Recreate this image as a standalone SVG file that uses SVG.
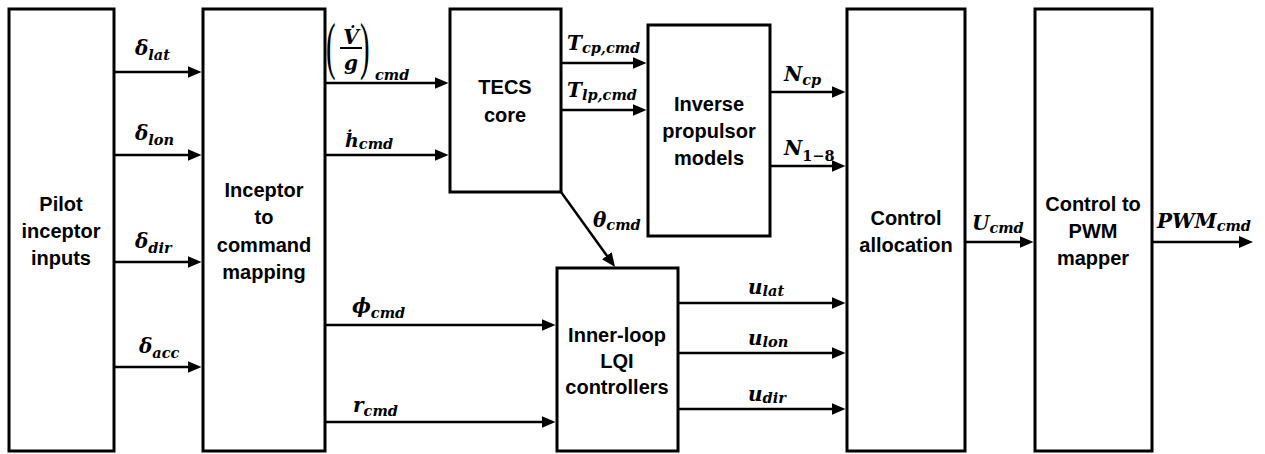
<svg xmlns="http://www.w3.org/2000/svg" width="1265" height="454" viewBox="0 0 1265 454">
<style>
.box{fill:#fff;stroke:#000;stroke-width:3}
.lbl{font-family:"Liberation Sans",Arial,sans-serif;font-weight:700;font-size:20px;text-anchor:middle;fill:#000}
.m{font-family:"DejaVu Serif","Liberation Serif",serif;font-weight:700;font-style:italic;font-size:20px;fill:#000}
.s{font-size:14.5px}
.up{font-style:normal}
.cn line,.cn path{stroke:#000;stroke-width:2.5;fill:none;marker-end:url(#ah)}
</style>
<defs>
<marker id="ah" markerWidth="14" markerHeight="12" refX="4" refY="6" orient="auto" markerUnits="userSpaceOnUse">
<path d="M0,0 L14,6 L0,12 z" fill="#000"/>
</marker>
</defs>
<rect width="1265" height="454" fill="#fff"/>

<g id="pilot">
<rect class="box" x="9" y="9" width="105" height="442"/>
<text class="lbl" x="61" y="211">Pilot</text>
<text class="lbl" x="61" y="238">inceptor</text>
<text class="lbl" x="61" y="265">inputs</text>
</g>
<g id="inceptor">
<rect class="box" x="203" y="9" width="122" height="442"/>
<text class="lbl" x="264" y="197">Inceptor</text>
<text class="lbl" x="264" y="224">to</text>
<text class="lbl" x="264" y="252">command</text>
<text class="lbl" x="264" y="279">mapping</text>
</g>
<g id="tecs">
<rect class="box" x="450" y="9" width="111" height="183"/>
<text class="lbl" x="505" y="94">TECS</text>
<text class="lbl" x="505" y="122">core</text>
</g>
<g id="inverse">
<rect class="box" x="648" y="25" width="122" height="211"/>
<text class="lbl" x="709" y="111">Inverse</text>
<text class="lbl" x="709" y="138">propulsor</text>
<text class="lbl" x="709" y="165">models</text>
</g>
<g id="innerloop">
<rect class="box" x="557" y="268" width="121" height="183"/>
<text class="lbl" x="617" y="342">Inner-loop</text>
<text class="lbl" x="617" y="368">LQI</text>
<text class="lbl" x="617" y="394">controllers</text>
</g>
<g id="allocation">
<rect class="box" x="847" y="9" width="118" height="442"/>
<text class="lbl" x="906" y="225">Control</text>
<text class="lbl" x="906" y="252">allocation</text>
</g>
<g id="pwm">
<rect class="box" x="1035" y="9" width="117" height="442"/>
<text class="lbl" x="1093" y="211">Control to</text>
<text class="lbl" x="1093" y="238">PWM</text>
<text class="lbl" x="1093" y="265">mapper</text>
</g>

<g id="connectors" class="cn">
<line x1="114" y1="72" x2="191.5" y2="72"/>
<line x1="114" y1="155" x2="191.5" y2="155"/>
<line x1="114" y1="262" x2="191.5" y2="262"/>
<line x1="114" y1="367" x2="191.5" y2="367"/>
<line x1="325" y1="83" x2="438.5" y2="83"/>
<line x1="325" y1="155" x2="438.5" y2="155"/>
<line x1="325" y1="325" x2="545.5" y2="325"/>
<line x1="325" y1="422" x2="545.5" y2="422"/>
<line x1="561" y1="63" x2="636.5" y2="63"/>
<line x1="561" y1="110" x2="636.5" y2="110"/>
<line x1="770" y1="92" x2="835.5" y2="92"/>
<line x1="770" y1="166" x2="835.5" y2="166"/>
<line x1="561" y1="192" x2="609.2" y2="258.9"/>
<line x1="678" y1="303" x2="835.5" y2="303"/>
<line x1="678" y1="353" x2="835.5" y2="353"/>
<line x1="678" y1="409" x2="835.5" y2="409"/>
<line x1="965" y1="242" x2="1023.5" y2="242"/>
<line x1="1152" y1="242" x2="1243" y2="242"/>
</g>

<g id="labels">
<text class="m" x="135" y="55">δ<tspan class="s" dy="5">lat</tspan></text>
<text class="m" x="135" y="140">δ<tspan class="s" dy="5">lon</tspan></text>
<text class="m" x="135" y="248">δ<tspan class="s" dy="5">dir</tspan></text>
<text class="m" x="139" y="353">δ<tspan class="s" dy="5">acc</tspan></text>
<text transform="translate(326,67) scale(0.45,1)" style="font-family:'Liberation Serif',serif;font-size:64px;fill:#000">(</text>
<text class="m" x="351" y="44" text-anchor="middle">V̇</text>
<line x1="340" y1="48" x2="362" y2="48" stroke="#000" stroke-width="2"/>
<text class="m" x="351" y="70" text-anchor="middle">g</text>
<text transform="translate(360,67) scale(0.45,1)" style="font-family:'Liberation Serif',serif;font-size:64px;fill:#000">)</text>
<text class="m s" x="375" y="80">cmd</text>
<text class="m" x="345" y="147" style="font-size:19px">ḣ<tspan class="s" dy="2">cmd</tspan></text>
<text class="m" x="352" y="313">ϕ<tspan class="s" dy="5">cmd</tspan></text>
<text class="m" x="353" y="412">r<tspan class="s" dy="4">cmd</tspan></text>
<text class="m" x="567" y="50">T<tspan class="s" dy="3">cp,cmd</tspan></text>
<text class="m" x="567" y="97">T<tspan class="s" dy="3">lp,cmd</tspan></text>
<text class="m" x="593" y="227">θ<tspan class="s" dy="3">cmd</tspan></text>
<text class="m" x="784" y="81">N<tspan class="s" dy="4">cp</tspan></text>
<text class="m" x="784" y="155">N<tspan class="s up" dy="6">1−8</tspan></text>
<text class="m" x="748" y="294">u<tspan class="s" dy="2">lat</tspan></text>
<text class="m" x="748" y="345">u<tspan class="s" dy="2">lon</tspan></text>
<text class="m" x="748" y="401">u<tspan class="s" dy="2">dir</tspan></text>
<text class="m" x="972" y="230">U<tspan class="s" dy="3">cmd</tspan></text>
<text class="m" x="1157" y="228">PWM<tspan class="s" dy="3">cmd</tspan></text>
</g>
</svg>
